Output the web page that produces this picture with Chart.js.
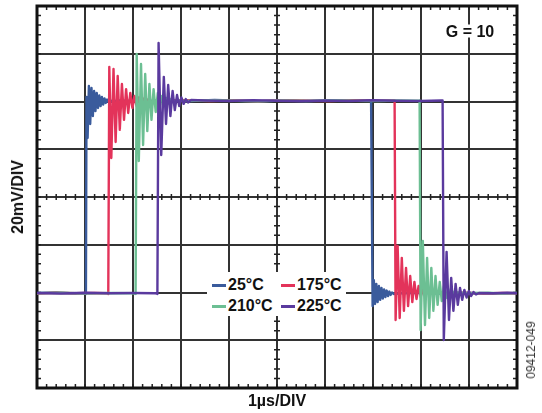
<!DOCTYPE html>
<html lang="en">
<head>
  <meta charset="UTF-8">
  <title>G = 10 step response</title>
  <script src="https://cdn.jsdelivr.net/npm/chart.js"></script>
  <style>
    body { margin: 0; background: #fff; font-family: Arial, "Liberation Sans", sans-serif; }
    #wrap { position: relative; width: 542px; height: 413px; }
    #scope { position: absolute; left: 0; top: 0; }
    .lbl { position: absolute; white-space: nowrap; font-weight: bold; color: #111; transform: translate(-50%, -50%); }
    #ylab { left: 18px; top: 197px; font-size: 16px; transform: translate(-50%, -50%) rotate(-90deg); }
    #xlab { left: 277px; top: 401px; font-size: 16px; }
    #gain { left: 470px; top: 31px; font-size: 16px; line-height: 13px; background: #fff; padding: 0 3px; }
    #code { left: 531px; top: 350px; font-size: 12px; font-weight: normal; color: #333; transform: translate(-50%, -50%) rotate(-90deg); }
    #legend { position: absolute; left: 207px; top: 272px; width: 139px; height: 44px; background: #fff; }
    .item { position: absolute; display: flex; align-items: center; height: 20px; font-weight: bold; font-size: 16px; color: #111; }
    .sw { display: inline-block; width: 14px; height: 3px; margin-right: 2px; }
  </style>
</head>
<body>
<div id="wrap">
  <canvas id="scope" width="542" height="413"></canvas>
  <div class="lbl" id="ylab">20mV/DIV</div>
  <div class="lbl" id="xlab">1µs/DIV</div>
  <div class="lbl" id="gain">G = 10</div>
  <div class="lbl" id="code">09412-049</div>
  <div id="legend"></div>
</div>

<script>
  // temperatures (legend) and trace colours
  const temps = ['25°C', '175°C', '210°C', '225°C'];
  const colors = ['#3a5b9c', '#e3335a', '#6cbf93', '#5a3a9e'];

  // time in µs (1 µs/div), output in mV (20 mV/div)
  const t25 = [0, 0.4, 0.8, 1.0,
    1.019, 1.031, 1.054, 1.081, 1.108, 1.135, 1.163, 1.190, 1.217, 1.244, 1.271, 1.298, 1.325, 1.352, 1.379, 1.406, 1.433, 1.460, 1.488, 1.521, 1.563,
    1.7, 2.2, 2.7, 3.2, 3.7, 4.2, 4.7, 5.2, 5.7, 6.2, 6.7, 6.96,
    6.971, 6.992, 7.017, 7.042, 7.069, 7.096, 7.123, 7.150, 7.177, 7.204, 7.231, 7.258, 7.285, 7.313, 7.340, 7.367, 7.396, 7.438,
    7.6, 8.0, 8.5, 9.0, 9.5, 10];
  const v25 = [-40.2, -40.0, -40.4, -40.2,
    -40.6, 41.9, 24.7, 46.5, 30.6, 45.7, 33.9, 44.4, 36.0, 43.6, 37.3, 42.5, 38.1, 41.9, 38.7, 41.3, 39.4, 40.8, 39.8, 40.6, 40.0,
    40.4, 40.1, 40.5, 40.2, 40.6, 40.3, 40.1, 40.5, 40.2, 40.4, 40.3, 40.4,
    40.4, -45.7, -34.8, -44.8, -36.4, -44.0, -37.3, -43.1, -38.1, -42.5, -38.7, -41.9, -39.2, -41.5, -39.6, -41.0, -40.0, -40.6,
    -40.3, -40.1, -40.5, -40.2, -40.4, -40.2];

  const t175 = [0, 0.4, 0.8, 1.2, 1.48,
    1.485, 1.506, 1.548, 1.594, 1.638, 1.681, 1.725, 1.769, 1.813, 1.856, 1.900, 1.944, 1.988, 2.031, 2.075, 2.119, 2.163, 2.206, 2.25, 2.302, 2.354,
    2.6, 3.1, 3.6, 4.1, 4.6, 5.1, 5.6, 6.1, 6.6, 7.1, 7.43,
    7.450, 7.471, 7.513, 7.556, 7.600, 7.644, 7.688, 7.731, 7.775, 7.819, 7.863, 7.906, 7.950, 7.994, 8.038, 8.081, 8.125, 8.177, 8.229,
    8.5, 8.9, 9.3, 9.7, 10];
  const v175 = [-40.4, -40.1, -40.3, -40.2, -40.3,
    -40.6, 54.5, 16.3, 53.6, 23.0, 50.7, 28.1, 47.3, 32.3, 45.2, 35.2, 43.6, 37.3, 42.3, 38.1, 41.7, 38.7, 41.3, 39.4, 40.8, 39.8,
    40.3, 40.5, 40.2, 40.4, 40.1, 40.5, 40.3, 40.2, 40.5, 40.3, 40.4,
    40.4, -51.5, -20.5, -50.7, -25.5, -47.7, -29.7, -45.7, -33.1, -44.0, -35.6, -42.7, -37.3, -41.9, -38.5, -41.3, -39.2, -40.8, -39.8,
    -40.3, -40.1, -40.4, -40.2, -40.3];

  const t210 = [0, 0.5, 1.0, 1.5, 1.98,
    2.054, 2.077, 2.121, 2.167, 2.210, 2.254, 2.298, 2.342, 2.385, 2.429, 2.473, 2.517, 2.560, 2.604, 2.648, 2.692, 2.735, 2.779, 2.833, 2.896,
    3.1, 3.6, 4.1, 4.6, 5.1, 5.6, 6.1, 6.6, 7.1, 7.5, 7.96,
    7.971, 7.992, 8.038, 8.083, 8.127, 8.171, 8.215, 8.258, 8.302, 8.346, 8.390, 8.433, 8.477, 8.521, 8.565, 8.608, 8.652, 8.698, 8.750,
    9.0, 9.4, 9.7, 10];
  const v210 = [-40.3, -40.1, -40.4, -40.2, -40.3,
    -40.6, 59.9, 15.1, 55.7, 21.8, 51.5, 27.6, 47.3, 32.3, 45.2, 35.6, 43.6, 37.7, 42.3, 38.5, 41.5, 39.2, 41.0, 39.8, 40.4,
    40.2, 40.5, 40.3, 40.1, 40.4, 40.2, 40.5, 40.3, 40.2, 40.4, 40.3,
    40.4, -55.7, -18.4, -53.6, -25.5, -50.7, -29.7, -47.7, -33.1, -45.2, -35.6, -43.6, -37.3, -42.3, -38.5, -41.5, -39.4, -40.8, -40.0,
    -40.3, -40.1, -40.4, -40.2];

  const t225 = [0, 0.5, 1.0, 1.5, 2.0, 2.46,
    2.508, 2.533, 2.588, 2.642, 2.688, 2.733, 2.779, 2.825, 2.871, 2.917, 2.963, 3.008, 3.054, 3.100, 3.146, 3.208,
    3.5, 4.0, 4.5, 5.0, 5.5, 6.0, 6.5, 7.0, 7.5, 8.0, 8.42,
    8.450, 8.475, 8.533, 8.583, 8.629, 8.675, 8.721, 8.767, 8.813, 8.858, 8.904, 8.950, 8.996, 9.042, 9.094, 9.146, 9.208,
    9.5, 9.8, 10];
  const v225 = [-40.2, -40.4, -40.1, -40.3, -40.2, -40.3,
    -40.6, 64.5, 17.6, 50.3, 30.6, 46.9, 33.9, 44.4, 36.4, 42.7, 38.1, 41.7, 39.0, 41.0, 39.6, 40.6,
    40.4, 40.2, 40.5, 40.3, 40.1, 40.4, 40.2, 40.5, 40.3, 40.2, 40.4,
    40.4, -59.9, -23.0, -51.5, -33.9, -47.7, -36.4, -45.2, -38.1, -43.1, -38.9, -42.1, -39.4, -41.5, -39.8, -40.8, -40.2,
    -40.3, -40.1, -40.3];

  const times = [t25, t175, t210, t225];
  const values = [v25, v175, v210, v225];

  // frame + small inward ticks (5 per div) on the border and on the centre cross
  const scopeGrid = {
    id: 'scopeGrid',
    beforeDatasetsDraw(chart) {
      const { ctx, chartArea: a } = chart;
      const xs = chart.scales.x, ys = chart.scales.y;
      const cx = xs.getPixelForValue(5), cy = ys.getPixelForValue(0);
      ctx.save();
      ctx.strokeStyle = '#222';
      ctx.lineWidth = 1.5;
      ctx.beginPath();
      for (let i = 0; i <= 50; i++) {
        const px = xs.getPixelForValue(i / 5);
        ctx.moveTo(px, a.top); ctx.lineTo(px, a.top + 4);
        ctx.moveTo(px, a.bottom); ctx.lineTo(px, a.bottom - 4);
        ctx.moveTo(px, cy - 3); ctx.lineTo(px, cy + 3);
      }
      for (let i = 0; i <= 40; i++) {
        const py = ys.getPixelForValue(-80 + i * 4);
        ctx.moveTo(a.left, py); ctx.lineTo(a.left + 4, py);
        ctx.moveTo(a.right, py); ctx.lineTo(a.right - 4, py);
        ctx.moveTo(cx - 3, py); ctx.lineTo(cx + 3, py);
      }
      ctx.stroke();
      ctx.lineWidth = 3;
      ctx.strokeStyle = '#111';
      ctx.strokeRect(a.left, a.top, a.right - a.left, a.bottom - a.top);
      ctx.restore();
    }
  };

  const datasets = temps.map((name, k) => ({
    label: name,
    data: times[k].map((t, i) => ({ x: t, y: values[k][i] })),
    borderColor: colors[k],
    borderWidth: 2.4,
    borderJoinStyle: 'round',
    pointRadius: 0,
    tension: 0,
    fill: false,
    order: 3 - k   // 225°C trace drawn on top
  }));

  new Chart(document.getElementById('scope'), {
    type: 'line',
    data: { datasets },
    options: {
      responsive: false,
      animation: false,
      layout: { padding: { left: 37, right: 25, top: 6, bottom: 25 } },
      plugins: { legend: { display: false }, tooltip: { enabled: false } },
      scales: {
        x: {
          type: 'linear', min: 0, max: 10,
          ticks: { display: false, stepSize: 1 },
          grid: { color: '#333', lineWidth: 2, drawTicks: false },
          border: { display: false }
        },
        y: {
          type: 'linear', min: -80, max: 80,
          ticks: { display: false, stepSize: 20 },
          grid: { color: '#333', lineWidth: 2, drawTicks: false },
          border: { display: false }
        }
      }
    },
    plugins: [scopeGrid]
  });

  // legend, two columns inside the plot
  const legend = document.getElementById('legend');
  const spots = [[5, 3], [74, 3], [5, 24], [74, 24]];
  temps.forEach((name, k) => {
    const it = document.createElement('div');
    it.className = 'item';
    it.style.left = spots[k][0] + 'px';
    it.style.top = spots[k][1] + 'px';
    it.innerHTML = '<span class="sw" style="background:' + colors[k] + '"></span>' + name;
    legend.appendChild(it);
  });
</script>
</body>
</html>
